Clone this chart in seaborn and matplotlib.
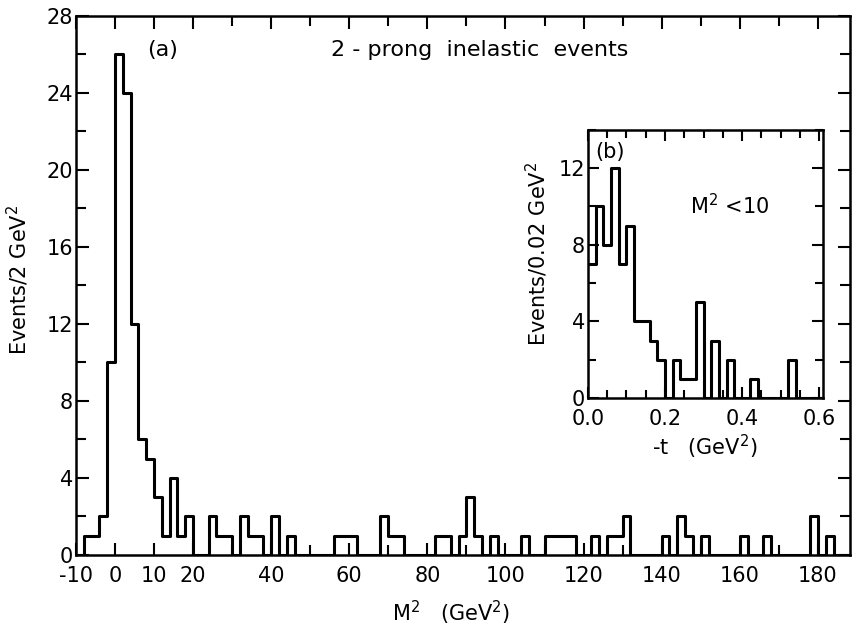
import numpy as np
import pandas as pd
import seaborn as sns
from matplotlib import pyplot as plt
from matplotlib.ticker import MultipleLocator

# (a) M^2 spectrum in 2 GeV^2 bins: lower edge of each non-empty bin, and its count
m2_lo = [-8, -6, -4, -2, 0, 2, 4, 6, 8, 10, 12, 14, 16, 18,
         24, 26, 28, 32, 34, 36, 40, 44, 56, 58, 60, 68, 70, 72,
         82, 84, 88, 90, 92, 96, 104, 110, 112, 114, 116,
         122, 126, 128, 130, 140, 144, 146, 150, 160, 166, 178, 182]
m2_n = [1, 1, 2, 10, 26, 24, 12, 6, 5, 3, 1, 4, 1, 2,
        2, 1, 1, 2, 1, 1, 2, 1, 1, 1, 1, 2, 1, 1,
        1, 1, 1, 3, 1, 1, 1, 1, 1, 1, 1,
        1, 1, 1, 2, 1, 2, 1, 1, 1, 1, 2, 1]
m2_ticks = [-10, 0, 10, 20, 40, 60, 80, 100, 120, 140, 160, 180]

# (b) -t spectrum for M^2 < 10, 0.02 GeV^2 bins
t_lo = [0.00, 0.02, 0.04, 0.06, 0.08, 0.10, 0.12, 0.14, 0.16, 0.18,
        0.22, 0.24, 0.26, 0.28, 0.32, 0.36, 0.42, 0.52]
t_n = [7, 10, 8, 12, 7, 9, 4, 4, 3, 2, 2, 1, 1, 5, 3, 2, 1, 2]
t_ticks = [0.0, 0.2, 0.4, 0.6]

df_a = pd.DataFrame({'m2': np.array(m2_lo) + 1.0, 'n': m2_n})
df_b = pd.DataFrame({'t': np.array(t_lo) + 0.01, 'n': t_n})

sns.set_style('ticks')
plt.rcParams['font.family'] = ['DejaVu Sans']
plt.rcParams['mathtext.fontset'] = 'dejavusans'
plt.rcParams['text.color'] = 'black'
plt.rcParams['axes.labelcolor'] = 'black'
fs = 15
lw = 2.2

fig = plt.figure(figsize=(8.62, 6.27), dpi=100)
ax = fig.add_axes([0.088, 0.115, 0.898, 0.86])

sns.histplot(data=df_a, x='m2', weights='n', binwidth=2, binrange=(-10, 188),
             element='step', fill=False, color='black', linewidth=lw, ax=ax)
ax.set_xlim(-9.7, 188.2)
ax.set_ylim(0, 28)
ax.set_xticks(m2_ticks)
ax.set_xticklabels([str(v) for v in m2_ticks])
ax.xaxis.set_minor_locator(MultipleLocator(10))
ax.yaxis.set_major_locator(MultipleLocator(4))
ax.yaxis.set_minor_locator(MultipleLocator(2))
ax.tick_params(which='both', direction='in', top=True, right=True, width=1.5,
               labelsize=fs, colors='black')
ax.tick_params(which='major', length=9)
ax.tick_params(which='minor', length=7)
ax.tick_params(axis='x', pad=8)
ax.tick_params(axis='y', pad=2)
for s in ax.spines.values():
    s.set_linewidth(1.8)
    s.set_color('black')
ax.set_xlabel('M$^2$   (GeV$^2$)', fontsize=fs)
ax.set_ylabel('Events/2 GeV$^2$', fontsize=fs)
ax.xaxis.set_label_coords(0.484, -0.082)
ax.yaxis.set_label_coords(-0.058, 0.51)
ax.text(0.092, 0.955, '(a)', transform=ax.transAxes, fontsize=16, va='top')
ax.text(0.522, 0.955, '2 - prong  inelastic  events', transform=ax.transAxes,
        fontsize=16, va='top', ha='center')

# inset (b)
ins = fig.add_axes([0.682, 0.365, 0.273, 0.428])
sns.histplot(data=df_b, x='t', weights='n', binwidth=0.02, binrange=(0, 0.62),
             element='step', fill=False, color='black', linewidth=lw, ax=ins)
ins.set_xlim(0, 0.61)
ins.set_ylim(0, 14)
ins.set_xticks(t_ticks)
ins.set_xticklabels(['0.0', '0.2', '0.4', '0.6'])
ins.xaxis.set_minor_locator(MultipleLocator(0.05))
ins.yaxis.set_major_locator(MultipleLocator(4))
ins.yaxis.set_minor_locator(MultipleLocator(2))
ins.tick_params(which='both', direction='in', top=True, right=True, width=1.5,
                labelsize=fs, colors='black')
ins.tick_params(which='major', length=8)
ins.tick_params(which='minor', length=6)
ins.tick_params(axis='x', pad=8)
ins.tick_params(axis='y', pad=2)
for s in ins.spines.values():
    s.set_linewidth(1.8)
    s.set_color('black')
ins.set_xlabel('-t   (GeV$^2$)', fontsize=fs)
ins.set_ylabel('Events/0.02 GeV$^2$', fontsize=fs)
ins.xaxis.set_label_coords(0.498, -0.13)
ins.yaxis.set_label_coords(-0.162, 0.537)
ins.text(0.03, 0.955, '(b)', transform=ins.transAxes, fontsize=fs, va='top')
ins.text(0.434, 0.716, 'M$^2$ <10', transform=ins.transAxes, fontsize=fs, va='center')

fig.savefig('out.png', dpi=100)
